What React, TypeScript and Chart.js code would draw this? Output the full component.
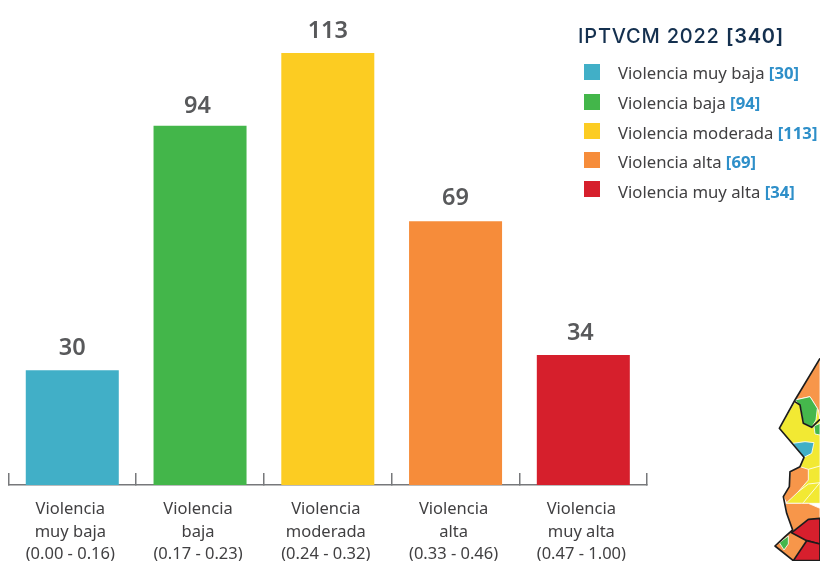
import React, { useEffect, useRef } from "react";
import { Chart, registerables } from "chart.js";

Chart.register(...registerables);

const categories = [
  ["Violencia", "muy baja", "(0.00 - 0.16)"],
  ["Violencia", "baja", "(0.17 - 0.23)"],
  ["Violencia", "moderada", "(0.24 - 0.32)"],
  ["Violencia", "alta", "(0.33 - 0.46)"],
  ["Violencia", "muy alta", "(0.47 - 1.00)"],
];
const values = [30, 94, 113, 69, 34];
const colors = ["#41afc7", "#43b64a", "#fccc22", "#f68c3a", "#d61f2c"];
const legendNames = [
  "Violencia muy baja",
  "Violencia baja",
  "Violencia moderada",
  "Violencia alta",
  "Violencia muy alta",
];
const legendTops = [64, 94, 123, 152, 181];
const legendTextCenters = [73, 103, 133, 162, 192];
const labelShiftX = [0, -2.5, 0, 0, -3];
const labelShiftY = [0, 2, 0, -1, 0];
const FONT = '"Noto Sans", sans-serif';

const valueLabels = {
  id: "valueLabels",
  afterDatasetsDraw(chart: any) {
    const { ctx } = chart;
    const meta = chart.getDatasetMeta(0);
    ctx.save();
    ctx.font = `600 23.5px ${FONT}`;
    ctx.fillStyle = "#58595b";
    ctx.textAlign = "center";
    ctx.textBaseline = "alphabetic";
    meta.data.forEach((bar: any, i: number) => {
      ctx.fillText(String(values[i]), bar.x + labelShiftX[i], bar.y - 15 + labelShiftY[i]);
    });
    ctx.restore();
  },
};

export default function App() {
  const ref = useRef<HTMLCanvasElement>(null);
  useEffect(() => {
    const chart = new Chart(ref.current!, {
      type: "bar",
      data: {
        labels: categories,
        datasets: [
          {
            data: values,
            backgroundColor: colors,
            borderWidth: 0,
            barPercentage: 0.728,
            categoryPercentage: 1,
          },
        ],
      },
      options: {
        animation: false,
        responsive: false,
        layout: { padding: { left: 8.4, right: 172.8, top: 0, bottom: 0 } },
        plugins: { legend: { display: false }, tooltip: { enabled: false } },
        scales: {
          y: { display: false, min: 0, max: 126.9 },
          x: {
            offset: true,
            afterFit(scale: any) {
              scale.height = 76;
            },
            grid: {
              offset: true,
              drawOnChartArea: false,
              drawTicks: true,
              tickLength: -12,
              color: "#77787b",
              lineWidth: 1.5,
            },
            border: { display: true, color: "#77787b", width: 1.5 },
            ticks: {
              color: "#414042",
              font: { family: FONT, size: 16.5, lineHeight: 1.37 },
              maxRotation: 0,
              autoSkip: false,
              padding: 25,
              labelOffset: -2,
            },
          },
        },
      },
      plugins: [valueLabels],
    } as any);
    return () => chart.destroy();
  }, []);

  return (
    <div style={{ position: "absolute", left: 0, top: 0, width: 820, height: 561, overflow: "hidden", background: "#fff" }}>
      <canvas ref={ref} width={820} height={561} style={{ display: "block" }} />
      <div
        style={{
          position: "absolute",
          left: 578,
          top: 22,
          fontFamily: "Inter, sans-serif",
          fontWeight: 500,
          fontSize: 20,
          letterSpacing: 0.8,
          lineHeight: "28px",
          color: "#14304f",
          whiteSpace: "nowrap",
        }}
      >
        IPTVCM 2022 <span style={{ fontWeight: 600 }}>[340]</span>
      </div>
      {legendNames.map((name, i) => (
        <React.Fragment key={name}>
          <div style={{ position: "absolute", left: 584, top: legendTops[i], width: 16, height: 16, background: colors[i] }} />
          <div
            style={{
              position: "absolute",
              left: 618,
              top: legendTextCenters[i] - 11,
              fontFamily: FONT,
              fontSize: 16.7,
              lineHeight: "22px",
              color: "#414042",
              whiteSpace: "nowrap",
            }}
          >
            {name} <b style={{ color: "#2e8fc9" }}>[{values[i]}]</b>
          </div>
        </React.Fragment>
      ))}
      <svg
        viewBox="0 0 240 663"
        width={80}
        height={221}
        style={{ position: "absolute", left: 740, top: 340 }}
      >
        <g stroke="#fff" strokeWidth="2.5" strokeLinejoin="round">
          <polygon fill="#f2e933" points="240,55 118,265 192,352 180,380 150,395 148,440 130,470 140,490 240,490" />
          <polygon fill="#f7964a" points="240,55 165,180 210,170 235,210 240,240" />
          <polygon fill="#45b74c" points="165,180 210,170 232,205 228,240 215,262 190,250 180,195" />
          <polygon fill="#45b74c" points="222,258 240,250 240,285 225,282" />
          <polygon fill="#41afc7" points="158,310 195,305 222,308 215,340 192,352" />
          <polygon fill="#f7964a" points="180,380 205,388 205,420 175,455 140,488 130,470 148,440 150,395" />
          <polygon fill="#f7964a" points="135,490 185,490 205,490 240,505 240,540 205,538 158,575 140,520" />
          <polygon fill="#f7964a" points="155,575 200,602 160,662 105,618 135,590" />
          <polygon fill="#45b74c" points="118,608 145,588 145,612 132,630" />
          <polyline fill="none" points="205,388 240,378" />
          <polyline fill="none" points="205,432 240,428 205,470 190,488" />
          <polyline fill="none" points="175,455 205,432" />
        </g>
        <polygon fill="#d71f2d" stroke="#1c1c1c" strokeWidth="5" strokeLinejoin="round" points="240,535 205,538 155,578 200,602 240,612" />
        <polygon fill="#d71f2d" stroke="#1c1c1c" strokeWidth="5" strokeLinejoin="round" points="200,602 160,662 240,662 240,612" />
        <polyline fill="none" stroke="#1c1c1c" strokeWidth="5" strokeLinejoin="round" points="240,55 165,180 118,265 192,352 180,380 150,395 148,440 130,470 140,520 158,570 135,590 105,618 160,662" />
        <polyline fill="none" stroke="#1c1c1c" strokeWidth="5" strokeLinejoin="round" points="165,185 180,195 190,250 215,262 240,238" />
      </svg>
    </div>
  );
}
